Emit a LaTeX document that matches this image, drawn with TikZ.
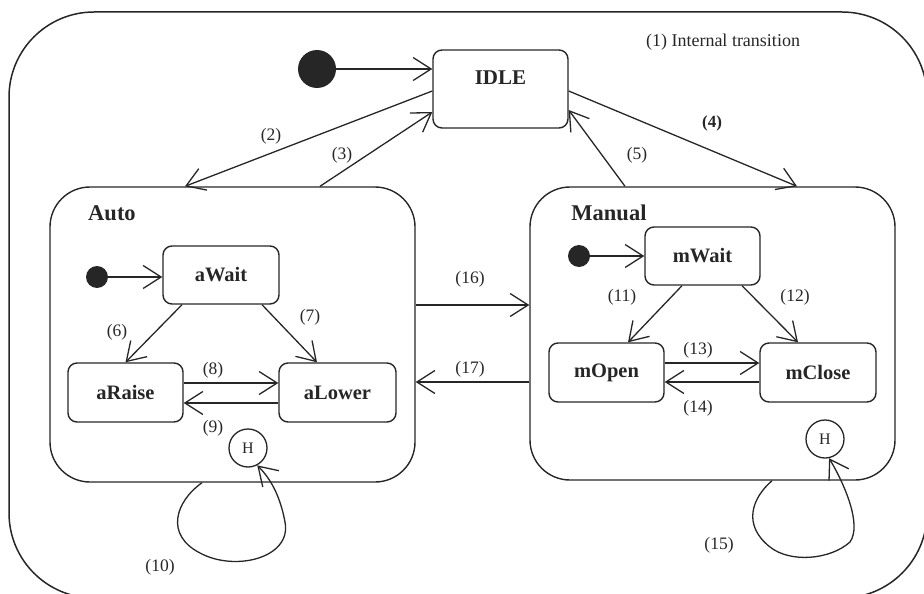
\documentclass[tikz,border=0pt]{standalone}
\usepackage{fontspec}
\setmainfont{Liberation Serif}
\usetikzlibrary{arrows.meta}
\definecolor{lc}{HTML}{262626}
\begin{document}
\begin{tikzpicture}[x=1pt,y=-1pt,
  statebox/.style={draw=lc, line width=1.4pt, rounded corners=9pt, inner sep=0pt,
     font=\bfseries\fontsize{20.5}{24}\selectfont, text=lc},
  compbox/.style={draw=lc, line width=1.4pt, rounded corners=40pt, inner sep=0pt},
  ctitle/.style={font=\bfseries\fontsize{22.5}{26}\selectfont, text=lc, inner sep=0pt},
  tr/.style={draw=lc, line width=1.3pt, -{Straight Barb[length=18pt,width=23pt,line width=1.3pt]}},
  lab/.style={font=\fontsize{17.5}{20}\selectfont, text=lc, inner sep=0pt},
  bigdot/.style={circle, fill=lc, minimum size=38pt, inner sep=0pt},
  smalldot/.style={circle, fill=lc, minimum size=22pt, inner sep=0pt},
  hist/.style={circle, draw=lc, line width=1.3pt, minimum size=38pt, inner sep=0pt,
     font=\fontsize{16}{18}\selectfont, text=lc}]
\useasboundingbox (0,0) rectangle (924,594);
\begin{scope}
\clip (0,0) rectangle (924,594);
\draw[lc, line width=1.5pt, rounded corners=85pt] (9,12) rectangle (927,598);
\end{scope}

% top level
\node[bigdot] (top) at (317,69) {};
\node[statebox, minimum width=135pt, minimum height=78pt,
  label={[name=idlet, font=\bfseries\fontsize{21}{24}\selectfont, text=lc, yshift=11pt]center:IDLE}] (idle) at (500.5,89) {};
\node[lab, font=\fontsize{18}{21}\selectfont] (note) at (723,42) {(1) Internal transition};

% composite states
\node[compbox, minimum width=365pt, minimum height=295pt] (auto) at (232.5,334.5) {};
\node[ctitle] (autot) at (112,213) {Auto};
\node[compbox, minimum width=365pt, minimum height=293pt] (man) at (712.5,333.5) {};
\node[ctitle] (mant) at (609,213) {Manual};

% Auto substates
\node[smalldot] (adot) at (97,277) {};
\node[statebox, minimum width=116pt, minimum height=58pt] (await) at (221,275) {aWait};
\node[statebox, minimum width=115pt, minimum height=59pt] (araise) at (125.5,392.5) {aRaise};
\node[statebox, minimum width=117pt, minimum height=59pt] (alower) at (337.5,392.5) {aLower};
\node[hist] (ha) at (248,448) {H};

% Manual substates
\node[smalldot] (mdot) at (579,256) {};
\node[statebox, minimum width=115pt, minimum height=58pt] (mwait) at (702.5,256) {mWait};
\node[statebox, minimum width=115pt, minimum height=59pt] (mopen) at (606.5,372.5) {mOpen};
\node[statebox, minimum width=116pt, minimum height=59pt] (mclose) at (818,372.5) {mClose};
\node[hist] (hm) at (825,439) {H};

% top transitions
\draw[tr] (top) -- (top -| idle.west);
\draw[tr] ([yshift=-2pt]idle.west) -- ([xshift=-47.5pt]auto.north);
\draw[tr] ([xshift=87.5pt]auto.north) -- ([yshift=-23pt]idle.west);
\draw[tr] ([yshift=-2pt]idle.east) -- ([xshift=84.5pt]man.north);
\draw[tr] ([xshift=-87.5pt]man.north) -- ([yshift=-21pt]idle.east);
\node[lab] (l2) at (271,136) {(2)};
\node[lab] (l3) at (342,155) {(3)};
\node[lab, font=\bfseries\fontsize{17}{20}\selectfont] (l4) at (712,123) {(4)};
\node[lab] (l5) at (637,155) {(5)};

% Auto transitions
\draw[tr] (adot) -- (adot -| await.west);
\draw[tr] ([xshift=-39pt]await.south) -- (araise.north);
\draw[tr] ([xshift=41pt]await.south) -- ([xshift=-20.5pt]alower.north);
\draw[tr] ([yshift=9.5pt]araise.east) -- ([yshift=9.5pt]alower.west);
\draw[tr] ([yshift=-10.5pt]alower.west) -- ([yshift=-10.5pt]araise.east);
\node[lab] (l6) at (117,332) {(6)};
\node[lab] (l7) at (310,317) {(7)};
\node[lab] (l8) at (213,370) {(8)};
\node[lab] (l9) at (213,428) {(9)};
\draw[tr] ([xshift=-30.5pt]auto.south) .. controls (175,502) and (165,535) .. (200,553)
   .. controls (235,572) and (292,558) .. (285,522) .. controls (280,495) and (270,478) .. (ha.-62);
\node[lab] (l10) at (160,567) {(10)};

% between composites
\draw[tr] ([yshift=29.5pt]auto.east) coordinate (p16) -- (p16 -| man.west);
\draw[tr] ([yshift=-48.5pt]man.west) coordinate (p17) -- (p17 -| auto.east);
\node[lab] (l16) at (470,279) {(16)};
\node[lab] (l17) at (470,369) {(17)};

% Manual transitions
\draw[tr] (mdot) -- (mdot -| mwait.west);
\draw[tr] ([xshift=-20.5pt]mwait.south) -- ([xshift=21.5pt]mopen.north);
\draw[tr] ([xshift=39.5pt]mwait.south) -- ([xshift=-20pt]mclose.north);
\draw[tr] ([yshift=9.5pt]mopen.east) -- ([yshift=9.5pt]mclose.west);
\draw[tr] ([yshift=-9.5pt]mclose.west) -- ([yshift=-9.5pt]mopen.east);
\node[lab] (l11) at (622,297) {(11)};
\node[lab] (l12) at (795,297) {(12)};
\node[lab] (l13) at (698,350) {(13)};
\node[lab] (l14) at (698,408) {(14)};
\draw[tr] ([xshift=59.5pt]man.south) .. controls (752,498) and (742,525) .. (770,547)
   .. controls (790,563) and (830,560) .. (850,542) .. controls (862,525) and (845,485) .. (hm.-78);
\node[lab] (l15) at (719,545) {(15)};
\end{tikzpicture}
\end{document}
